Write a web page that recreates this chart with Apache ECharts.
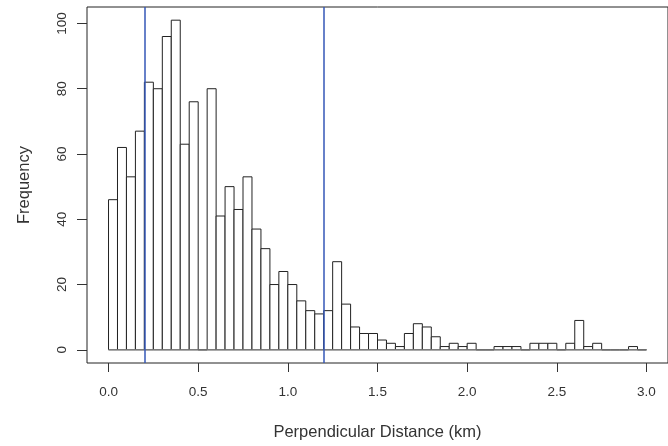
<!DOCTYPE html>
<html>
<head>
<meta charset="utf-8">
<script src="https://cdn.jsdelivr.net/npm/echarts@6/dist/echarts.min.js"></script>
<style>html,body{margin:0;padding:0;background:#fff;}#c{width:668px;height:446px;}</style>
</head>
<body>
<div id="c"></div>
<script>
// Histogram bins (left edges, km), bin width 0.05
const binStarts = [0.00,0.05,0.10,0.15,0.20,0.25,0.30,0.35,0.40,0.45,
  0.50,0.55,0.60,0.65,0.70,0.75,0.80,0.85,0.90,0.95,
  1.00,1.05,1.10,1.15,1.20,1.25,1.30,1.35,1.40,1.45,
  1.50,1.55,1.60,1.65,1.70,1.75,1.80,1.85,1.90,1.95,
  2.00,2.05,2.10,2.15,2.20,2.25,2.30,2.35,2.40,2.45,
  2.50,2.55,2.60,2.65,2.70,2.75,2.80,2.85,2.90,2.95];
const binWidth = 0.05;
const frequencies = [46,62,53,67,82,80,96,101,63,76,
  0,80,41,50,43,53,37,31,20,24,
  20,15,12,11,12,27,14,7,5,5,
  3,2,1,5,8,7,4,1,2,1,
  2,0,0,1,1,1,0,2,2,2,
  0,2,9,1,2,0,0,0,1,0];
const cutLines = [0.2, 1.2];
const xTicks = [0, 0.5, 1.0, 1.5, 2.0, 2.5, 3.0];
const yTicks = [0, 20, 40, 60, 80, 100];

const chart = echarts.init(document.getElementById('c'), null, {renderer: 'canvas'});
const barData = binStarts.map((s, i) => [s, s + binWidth, frequencies[i]]);
const font = '"Liberation Sans", Arial, sans-serif';

chart.setOption({
  animation: false,
  backgroundColor: '#fff',
  grid: {left: 87, right: -4, top: 7, bottom: 81, show: true, borderColor: '#222', borderWidth: 1, backgroundColor: 'transparent'},
  xAxis: {
    type: 'value', min: -0.12, max: 3.12,
    name: 'Perpendicular Distance (km)', nameLocation: 'middle', nameGap: 61,
    nameTextStyle: {fontFamily: font, fontSize: 16.5, color: '#333'},
    axisLine: {show: false, onZero: false},
    axisTick: {show: true, customValues: xTicks, length: 9, lineStyle: {color: '#333'}},
    axisLabel: {customValues: xTicks, formatter: v => v.toFixed(1), margin: 22, fontFamily: font, fontSize: 13.5, color: '#333'},
    splitLine: {show: false}
  },
  yAxis: {
    type: 'value', min: -4.04, max: 105.04,
    name: 'Frequency', nameLocation: 'middle', nameGap: 54,
    nameTextStyle: {fontFamily: font, fontSize: 16.5, color: '#333'},
    axisLine: {show: false, onZero: false},
    axisTick: {show: true, customValues: yTicks, length: 10, lineStyle: {color: '#333'}},
    axisLabel: {customValues: yTicks, rotate: 90, margin: 18, fontFamily: font, fontSize: 13.5, color: '#333'},
    splitLine: {show: false}
  },
  series: [
    {
      type: 'custom',
      data: barData,
      encode: {x: [0, 1], y: 2},
      renderItem: function (params, api) {
        const p0 = api.coord([api.value(0), api.value(2)]);
        const p1 = api.coord([api.value(1), 0]);
        return {
          type: 'rect',
          shape: {x: p0[0], y: p0[1], width: p1[0] - p0[0], height: p1[1] - p0[1]},
          style: {fill: '#fff', stroke: '#222', lineWidth: 1}
        };
      },
      z: 2
    },
    {
      type: 'line',
      data: [[binStarts[0], 0], [binStarts[binStarts.length - 1] + binWidth, 0]],
      symbol: 'none',
      lineStyle: {color: '#888', width: 1},
      z: 3,
      markLine: {
        silent: true,
        symbol: 'none',
        label: {show: false},
        lineStyle: {color: '#3557b7', width: 1.5, type: 'solid'},
        data: cutLines.map(v => ({xAxis: v}))
      }
    }
  ]
});
</script>
</body>
</html>
